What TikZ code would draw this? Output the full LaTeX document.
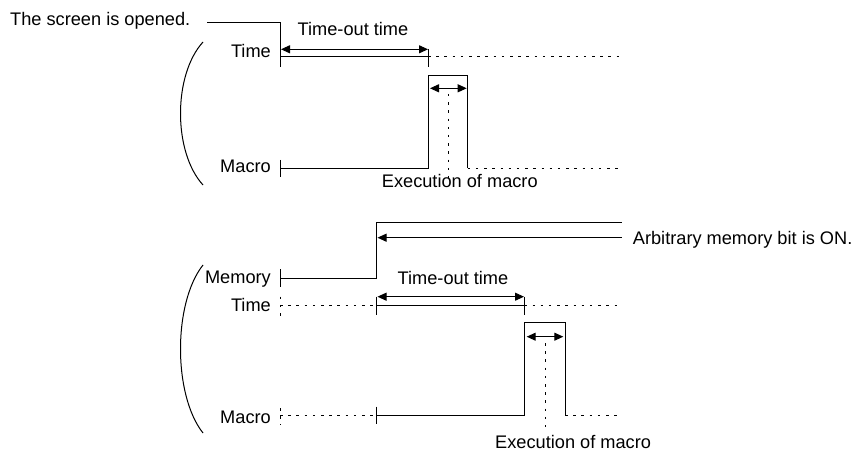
\documentclass[tikz,border=0pt]{standalone}
\usepackage{fontspec}
\setmainfont{Liberation Sans}
\usetikzlibrary{arrows.meta, positioning, calc}

\begin{document}
\begin{tikzpicture}
    [
        x=1pt, y=-1pt,
        every node/.style={inner sep=0pt, font=\fontsize{18.2}{21}\selectfont},
        wave/.style={line width=1pt},
        idlewave/.style={line width=1pt, dash pattern=on 2.5pt off 5.7pt},
        span/.style={line width=1pt, {Triangle[length=9pt,width=8pt]}-{Triangle[length=9pt,width=8pt]}},
        pointer/.style={line width=1pt, {Triangle[length=9pt,width=8pt]}-},
        signame/.style={anchor=base east},
        remark/.style={anchor=base west},
        bracket/.style={line width=1pt}
    ]
    \useasboundingbox (0,0) rectangle (859,454);

    % screen opened, first chart
    \node [remark] (opened) at (10,25.6) {The screen is opened.};
    \node [signame] (timeA) at (271,58) {Time};
    \node [signame] (macroA) at (271,173) {Macro};
    \node [anchor=base] (timeoutA) at (353,35.5) {Time-out time};
    \node [remark] (execA) at (381.7,187.3) {Execution of macro};

    \coordinate (openA) at (207,22.7);
    \coordinate (startA) at (280,57);
    \coordinate (stopA) at (428,57);
    \coordinate (lowA) at (280,168.3);
    \coordinate (riseA) at (428,168.3);
    \coordinate (fallA) at (467.7,168.3);
    \coordinate (endA) at (622,57);

    \draw [wave] (openA) -| (280,67);
    \draw [wave] (startA) -- (stopA);
    \draw [wave] ($(stopA)+(0,-8)$) -- ($(stopA)+(0,10)$);
    \draw [idlewave] (stopA) -- (endA);
    \draw [span] (281,49.3) -- (428,49.3);

    \draw [wave] ($(lowA)+(0,-8.5)$) -- ($(lowA)+(0,9)$);
    \draw [wave] (lowA) -- (riseA) |- (467.7,76) -- (fallA);
    \draw [idlewave] (fallA) -- (endA |- fallA);
    \draw [span] (430,88.3) -- (466.7,88.3);
    \draw [idlewave] (448.3,94) -- (448.3,178);

    \draw [bracket] (203,42) .. controls (173,75) and (173,152) .. (203,185);

    % memory bit ON, second chart
    \node [signame] (memoryB) at (271,283.6) {Memory};
    \node [signame] (timeB) at (271,311.5) {Time};
    \node [signame] (macroB) at (271,423) {Macro};
    \node [anchor=base] (timeoutB) at (453,284.5) {Time-out time};
    \node [remark] (bitB) at (632.7,244.6) {Arbitrary memory bit is ON.};
    \node [remark] (execB) at (495,448) {Execution of macro};

    \coordinate (memlowB) at (280,278.3);
    \coordinate (onB) at (376.7,278.3);
    \coordinate (memendB) at (622,222.7);
    \coordinate (startB) at (376.7,305.7);
    \coordinate (stopB) at (524.3,305.7);
    \coordinate (lowB) at (376.7,415);
    \coordinate (fallB) at (565,415);

    \draw [wave] ($(memlowB)+(0,-9)$) -- ($(memlowB)+(0,8.5)$);
    \draw [wave] (memlowB) -- (onB) |- (memendB);
    \draw [pointer] (377.5,237.7) -- (621.7,237.7);

    \draw [idlewave] (280,296.7) -- (280,316);
    \draw [idlewave] (280,305.7) -- (startB);
    \draw [wave] (startB) -- (stopB);
    \draw [wave] ($(startB)+(0,-9)$) -- ($(startB)+(0,9.5)$);
    \draw [wave] ($(stopB)+(0,-9)$) -- ($(stopB)+(0,9.5)$);
    \draw [idlewave] (stopB) -- (622,305.7);
    \draw [span] (377.5,296.7) -- (524,296.7);

    \draw [idlewave] (280,408) -- (280,425);
    \draw [idlewave] (280,415) -- (lowB);
    \draw [wave] ($(lowB)+(0,-8.5)$) -- ($(lowB)+(0,9)$);
    \draw [wave] (lowB) -- (524.3,415) |- (565,322.3) -- (fallB);
    \draw [idlewave] (fallB) -- (622,415);
    \draw [span] (526.7,336.7) -- (563.3,336.7);
    \draw [idlewave] (545.7,343) -- (545.7,426.7);

    \draw [bracket] (203,265) .. controls (173,303) and (173,395) .. (203,433);
\end{tikzpicture}
\end{document}
